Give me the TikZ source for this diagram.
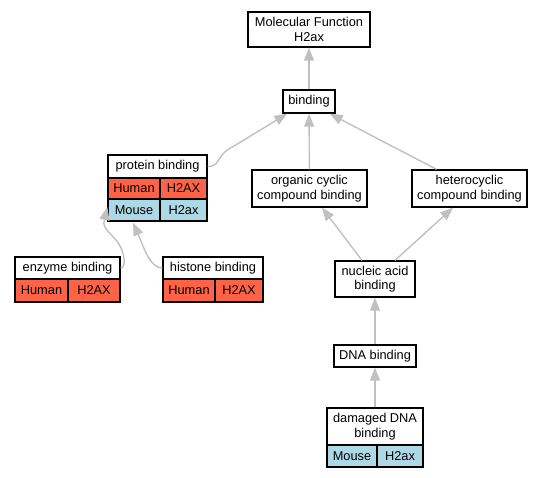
\documentclass[tikz,border=0pt]{standalone}
\usepackage{fontspec}
\setmainfont{Liberation Sans}
\usetikzlibrary{arrows.meta,calc}
\definecolor{human}{HTML}{FF6347}
\definecolor{mouse}{HTML}{ADD8E6}
\definecolor{edgegray}{HTML}{C0C0C0}
\begin{document}
\begin{tikzpicture}[x=1pt,y=-1pt,
  font=\fontsize{12.8}{14.5}\selectfont,
  box/.style={draw=black,line width=1.3pt,fill=white,inner sep=0pt,align=center,anchor=center},
  hcell/.style={box,fill=human},
  mcell/.style={box,fill=mouse},
  edge/.style={draw=edgegray,line width=1.4pt,-{Triangle[length=13pt,width=10pt]}}]
\useasboundingbox (0,0) rectangle (543,477);
% nodes
\node[box,minimum width=122pt,minimum height=35pt] (mf) at (309,29.5) {Molecular Function\\H2ax};
\node[box,minimum width=52pt,minimum height=23pt] (bind) at (309,101.5) {binding};
\node[box,minimum width=115pt,minimum height=37pt] (org) at (309.5,188.5) {organic cyclic\\compound binding};
\node[box,minimum width=115pt,minimum height=37pt] (het) at (469.5,188.5) {heterocyclic\\compound binding};
% protein binding
\node[box,minimum width=99pt,minimum height=23pt] (prot) at (157.5,166.5) {protein binding};
\node[hcell,minimum width=52pt,minimum height=21pt] (proth) at (134,188.5) {Human};
\node[hcell,minimum width=47pt,minimum height=21pt] (prothx) at (183.5,188.5) {H2AX};
\node[mcell,minimum width=52pt,minimum height=22pt] (protm) at (134,210) {Mouse};
\node[mcell,minimum width=47pt,minimum height=22pt] (protmx) at (183.5,210) {H2ax};
% enzyme binding
\node[box,minimum width=105pt,minimum height=22pt] (enz) at (67.5,268) {enzyme binding};
\node[hcell,minimum width=53pt,minimum height=23pt] (enzh) at (41.5,290.5) {Human};
\node[hcell,minimum width=52pt,minimum height=23pt] (enzhx) at (94,290.5) {H2AX};
% histone binding
\node[box,minimum width=100pt,minimum height=22pt] (his) at (213,268) {histone binding};
\node[hcell,minimum width=52pt,minimum height=23pt] (hish) at (189,290.5) {Human};
\node[hcell,minimum width=48pt,minimum height=23pt] (hishx) at (239,290.5) {H2AX};
% nucleic acid etc
\node[box,minimum width=80pt,minimum height=36pt] (nuc) at (375,279) {nucleic acid\\binding};
\node[box,minimum width=82pt,minimum height=22pt] (dna) at (375,356) {DNA binding};
\node[box,minimum width=96pt,minimum height=37pt] (dam) at (375,426.5) {damaged DNA\\binding};
\node[mcell,minimum width=50pt,minimum height=22pt] (damm) at (352,456) {Mouse};
\node[mcell,minimum width=46pt,minimum height=22pt] (dammx) at (400,456) {H2ax};
% edges
\draw[edge] (bind) -- (mf);
\draw[edge] (org) -- (bind);
\draw[edge] ($(het.north)+(-33,0)$) -- ($(bind.south east)+(-6,0)$);
\draw[edge] (prot.east) .. controls +(14,0) and (214,156) .. (234,146) -- ($(bind.south west)+(5,0)$);
\draw[edge] ($(nuc.north)+(-13,0)$) -- ($(org.south)+(12.5,0)$);
\draw[edge] ($(nuc.north)+(20,0)$) -- ($(het.south)+(-16.5,0)$);
\draw[edge] (dna) -- (nuc);
\draw[edge] (dam) -- (dna);
\draw[edge] (enz.east) .. controls +(6,0) and (125,250) .. (116,240) .. controls (103,226) .. ($(protm.west)+(0,-3)$);
\draw[edge] (his.west) .. controls +(-13,0) and (143,245) .. ($(protm.south)+(-1,1)$);
\end{tikzpicture}
\end{document}
